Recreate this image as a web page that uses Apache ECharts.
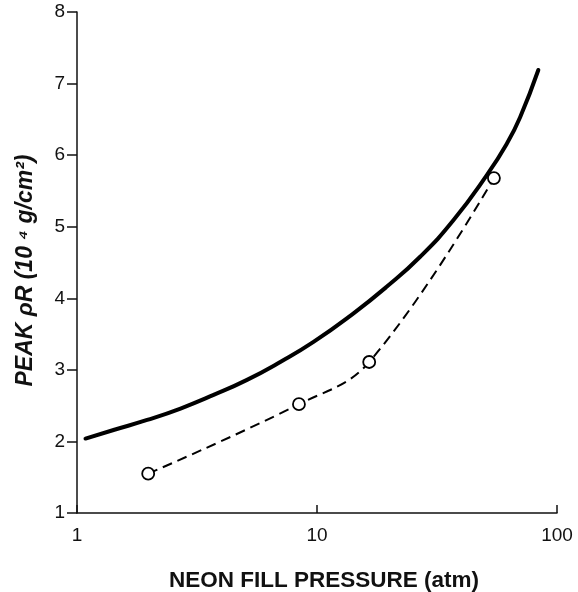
<!DOCTYPE html>
<html>
<head>
<meta charset="utf-8">
<script src="https://cdn.jsdelivr.net/npm/echarts@6/dist/echarts.min.js"></script>
<style>html,body{margin:0;padding:0;background:#fff;}#c{width:578px;height:592px;}</style>
</head>
<body>
<div id="c"></div>
<script>
// Data
var solidX = [1.085, 1.42, 1.96, 2.70, 3.71, 5.11, 7.03, 9.67, 14.2, 19.5, 26.9, 37.0, 51.0, 61.8, 70.2, 83.6];
var solidY = [2.04, 2.16, 2.30, 2.46, 2.65, 2.86, 3.11, 3.39, 3.79, 4.16, 4.58, 5.09, 5.72, 6.16, 6.53, 7.19];
var measX = [1.98, 8.41, 16.5, 54.6];
var measY = [1.55, 2.52, 3.11, 5.68];
var xTicks = [1, 10, 100];
var yTicks = [1, 2, 3, 4, 5, 6, 7, 8];
var xTitle = 'NEON FILL PRESSURE (atm)';
var yTitle = 'PEAK ρR (10 ⁴ g/cm²)';

function pairs(xs, ys) { return xs.map(function (x, i) { return [x, ys[i]]; }); }

var font = '"Liberation Sans", Arial, Helvetica, sans-serif';
var chart = echarts.init(document.getElementById('c'));
chart.setOption({
  animation: false,
  backgroundColor: '#fff',
  grid: { left: 77, right: 21, top: 12, bottom: 79, containLabel: false, outerBoundsMode: 'none' },
  xAxis: {
    type: 'log', logBase: 10, min: xTicks[0], max: xTicks[xTicks.length - 1],
    name: xTitle, nameLocation: 'middle', nameGap: 56,
    nameTextStyle: { fontFamily: font, fontWeight: 'bold', fontSize: 22.5, color: '#111', padding: [0, 0, 0, 14] },
    axisLine: { lineStyle: { color: '#111', width: 1.5 } },
    axisTick: { show: true, inside: true, length: 8, lineStyle: { color: '#111', width: 1.5 } },
    minorTick: { show: false },
    axisLabel: { fontFamily: font, fontSize: 19, color: '#111', margin: 13 },
    splitLine: { show: false }
  },
  yAxis: {
    type: 'value', min: yTicks[0], max: yTicks[yTicks.length - 1], interval: 1,
    name: yTitle, nameLocation: 'middle', nameGap: 40, nameRotate: 90,
    nameTextStyle: { fontFamily: font, fontWeight: 'bold', fontStyle: 'italic', fontSize: 23, color: '#111', padding: [0, 16, 0, 0] },
    axisLine: { show: true, lineStyle: { color: '#111', width: 1.5 } },
    axisTick: { show: true, inside: false, length: 10, lineStyle: { color: '#111', width: 1.5 } },
    axisLabel: { fontFamily: font, fontSize: 19, color: '#111', margin: 12 },
    splitLine: { show: false }
  },
  series: [
    {
      type: 'line', data: pairs(solidX, solidY), smooth: 0.5,
      showSymbol: false, symbol: 'none',
      lineStyle: { color: '#000', width: 4, cap: 'round' }
    },
    {
      type: 'line', data: pairs(measX, measY), smooth: 0.4,
      symbol: 'circle', symbolSize: 12, showSymbol: true, showAllSymbol: true,
      itemStyle: { color: '#fff', borderColor: '#000', borderWidth: 1.8, opacity: 1 },
      lineStyle: { color: '#000', width: 2, type: [10, 6] },
      z: 3
    }
  ]
});
</script>
</body>
</html>
